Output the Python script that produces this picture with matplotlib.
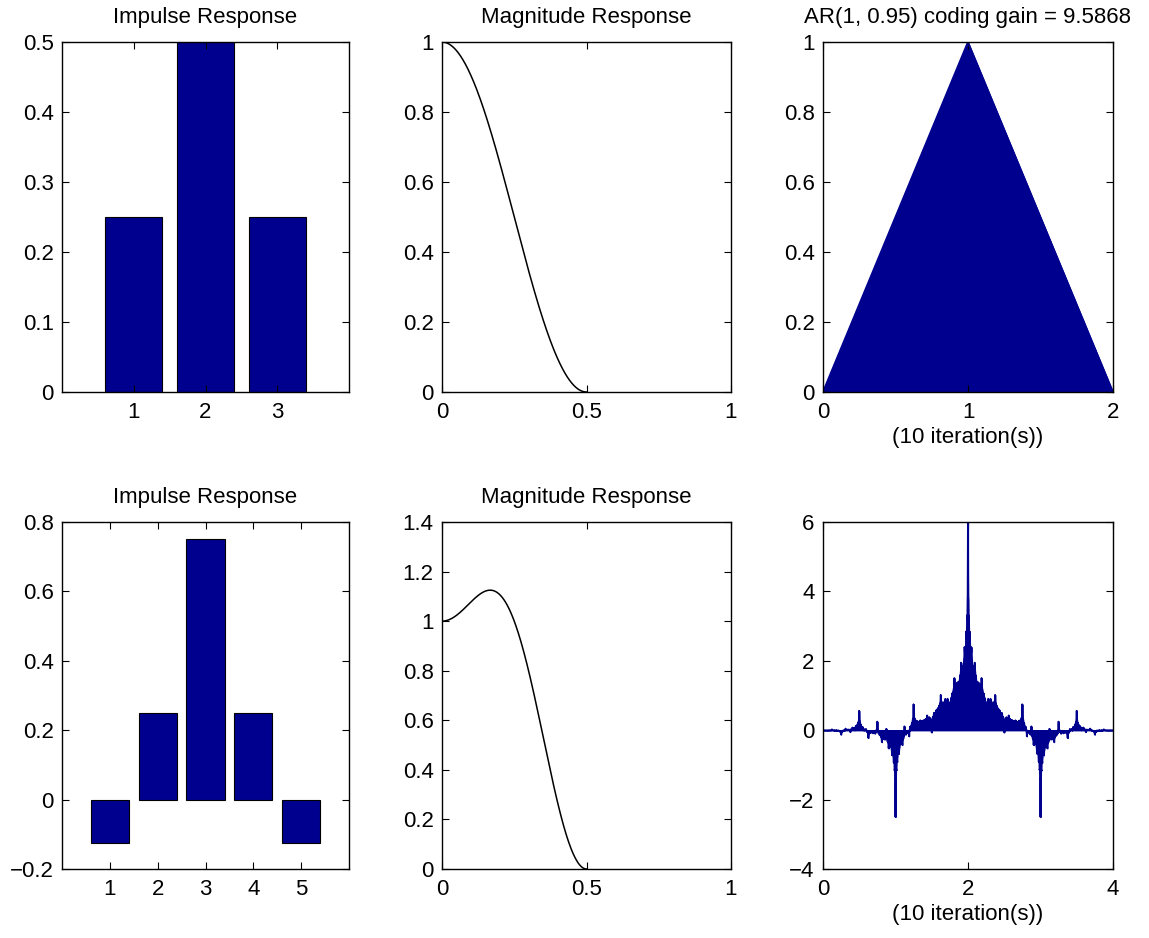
import numpy as np
import matplotlib
matplotlib.use("Agg")
import matplotlib.pyplot as plt

# ---- data ----
h_top = [0.25, 0.5, 0.25]
h_bot = [-0.125, 0.25, 0.75, 0.25, -0.125]
top_title_right = "AR(1, 0.95) coding gain = 9.5868"
n_iter = 10
xlabel_right = "(10 iteration(s))"

NAVY = (0, 0, 0.56)
FS = 16
plt.rcParams['font.family'] = ['Liberation Sans', 'DejaVu Sans']
plt.rcParams['font.size'] = FS

W, H = 1149, 938
fig = plt.figure(figsize=(W / 100, H / 100), dpi=100)


def ax_at(l, t, r, b):
    return fig.add_axes([l / W, 1 - b / H, (r - l) / W, (b - t) / H])


def style(ax):
    ax.tick_params(direction='in', top=True, right=True, length=5, width=0.8,
                   labelsize=FS)
    ax.tick_params(axis='x', pad=7)
    ax.tick_params(axis='y', pad=6)
    for s in ax.spines.values():
        s.set_linewidth(1.0)


def mag(h, f):
    k = np.arange(len(h))
    return np.abs(np.exp(-2j * np.pi * np.outer(f, k)) @ np.asarray(h))


def cascade(h, n):
    c = np.array([1.0])
    g = 2 * np.asarray(h)
    for _ in range(n):
        up = np.zeros(2 * len(c) - 1)
        up[::2] = c
        c = np.convolve(up, g)
    t = np.arange(len(c)) / 2 ** n
    return t, c


cols = [(62, 349), (442, 731), (823, 1113)]
rows = [(42, 392), (522, 869)]
TPAD = 13.5

for ri, h in enumerate([h_top, h_bot]):
    top, bot = rows[ri]
    # impulse response
    ax = ax_at(cols[0][0], top, cols[0][1], bot)
    x = np.arange(1, len(h) + 1)
    ax.bar(x, h, width=0.8, color=NAVY, edgecolor='black', linewidth=0.8)
    ax.set_xlim(0, len(h) + 1)
    ax.set_xticks(x)
    if ri == 0:
        ax.set_ylim(0, 0.5)
        ax.set_yticks([0, 0.1, 0.2, 0.3, 0.4, 0.5])
        ax.set_yticklabels(['0', '0.1', '0.2', '0.3', '0.4', '0.5'])
    else:
        ax.set_ylim(-0.2, 0.8)
        ax.set_yticks([-0.2, 0, 0.2, 0.4, 0.6, 0.8])
        ax.set_yticklabels(['\u22120.2', '0', '0.2', '0.4', '0.6', '0.8'])
    ax.set_title('Impulse Response', fontsize=FS, pad=TPAD)
    style(ax)

    # magnitude response
    ax = ax_at(cols[1][0], top, cols[1][1], bot)
    f = np.linspace(0, 0.5, 512)
    ax.plot(f, mag(h, f), color='black', linewidth=1.1)
    ax.set_xlim(0, 1)
    ax.set_xticks([0, 0.5, 1])
    ax.set_xticklabels(['0', '0.5', '1'])
    if ri == 0:
        ax.set_ylim(0, 1)
        ax.set_yticks([0, 0.2, 0.4, 0.6, 0.8, 1])
        ax.set_yticklabels(['0', '0.2', '0.4', '0.6', '0.8', '1'])
    else:
        ax.set_ylim(0, 1.4)
        ax.set_yticks([0, 0.2, 0.4, 0.6, 0.8, 1, 1.2, 1.4])
        ax.set_yticklabels(['0', '0.2', '0.4', '0.6', '0.8', '1', '1.2', '1.4'])
    ax.set_title('Magnitude Response', fontsize=FS, pad=TPAD)
    style(ax)

    # cascade
    ax = ax_at(cols[2][0], top, cols[2][1], bot)
    t, c = cascade(h, n_iter)
    ax.fill_between(t, c, 0, color=NAVY, linewidth=1.0, edgecolor=NAVY)
    ax.plot(t, c, color=NAVY, linewidth=1.2)
    ax.set_xlim(0, len(h) - 1)
    if ri == 0:
        ax.set_ylim(0, 1)
        ax.set_xticks([0, 1, 2])
        ax.set_yticks([0, 0.2, 0.4, 0.6, 0.8, 1])
        ax.set_yticklabels(['0', '0.2', '0.4', '0.6', '0.8', '1'])
        ax.set_title(top_title_right, fontsize=FS, pad=TPAD)
    else:
        ax.set_ylim(-4, 6)
        ax.set_xticks([0, 2, 4])
        ax.set_yticks([-4, -2, 0, 2, 4, 6])
        ax.set_yticklabels(['\u22124', '\u22122', '0', '2', '4', '6'])
    ax.set_xlabel(xlabel_right, fontsize=FS, labelpad=3)
    style(ax)

fig.savefig('out.png', dpi=100)
